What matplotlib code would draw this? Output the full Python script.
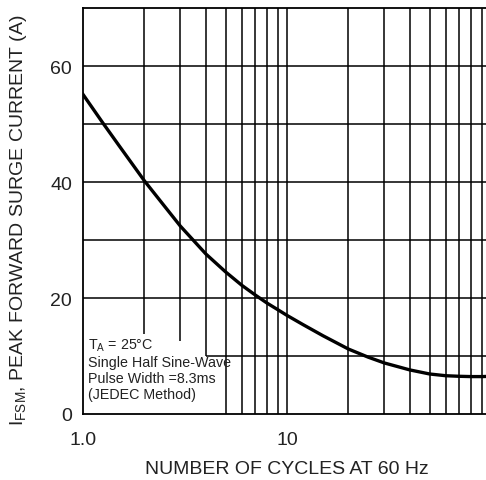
import matplotlib
matplotlib.use('Agg')
import matplotlib.pyplot as plt

plt.rcParams['font.family'] = ['Liberation Sans', 'DejaVu Sans']
plt.rcParams['mathtext.fontset'] = 'custom'
plt.rcParams['mathtext.rm'] = 'Liberation Sans'

# surge current curve
cycles = [1, 1.25, 1.5, 2, 2.5, 3, 4, 5, 6, 7, 8, 9, 10, 12, 15, 20, 25, 30,
          40, 50, 60, 70, 80, 90, 100]
ifsm = [55.1, 50.2, 46.3, 40.2, 35.9, 32.4, 27.6, 24.5, 22.2, 20.5, 19.1, 18.0,
        17.0, 15.4, 13.5, 11.2, 9.8, 8.8, 7.6, 6.9, 6.6, 6.5, 6.45, 6.45, 6.5]

y_ticks = [0, 20, 40, 60]
x_ticks = [1, 10]
x_ticklabels = ['1.0', '10']

# grid lines (the box with the notes hides the lower ends of some)
v_grid = [2, 3, 4, 5, 6, 7, 8, 9, 10, 20, 30, 40, 50, 60, 70, 80, 90]
v_grid_bottom = [13.8, 12.6, 10, 0, 0, 0, 0, 0, 0, 0, 0, 0, 0, 0, 0, 0, 0]
h_grid = [10, 20, 30, 40, 50, 60]
h_grid_left = [4, 1, 1, 1, 1, 1]

fig = plt.figure(figsize=(4.86, 4.81), dpi=100)
ax = fig.add_axes([83 / 486, 1 - 415 / 481, (491 - 83) / 486, (415 - 9) / 481])
ax.set_xscale('log')
ax.set_xlim(1, 100)
ax.set_ylim(0, 70)

ax.vlines(v_grid, v_grid_bottom, 70, colors='black', linewidth=1.1, zorder=1)
ax.hlines(h_grid, h_grid_left, 100, colors='black', linewidth=1.1, zorder=1)

ax.plot(cycles, ifsm, color='black', linewidth=2.4, zorder=3,
        solid_joinstyle='round')

ax.set_yticks(y_ticks)
ax.set_xticks(x_ticks)
ax.set_xticklabels(x_ticklabels)
ax.xaxis.set_minor_locator(matplotlib.ticker.NullLocator())
ax.tick_params(axis='both', length=0, labelsize=14, labelcolor='#222222')
ax.tick_params(axis='y', pad=8)
ax.tick_params(axis='x', pad=12)

for s in ax.spines.values():
    s.set_linewidth(1.3)
ax.spines['right'].set_visible(False)

ax.text(1.06, 13.4,
        'T$_\\mathregular{A}$ = 25°C\nSingle Half Sine-Wave\nPulse Width =8.3ms\n(JEDEC Method)',
        fontsize=10.3, va='top', ha='left', linespacing=1.2, color='#222222', zorder=4)

ax.set_xlabel('NUMBER OF CYCLES AT 60 Hz', fontsize=14, color='#222222', labelpad=9)
ax.set_ylabel('$\\mathregular{I_{FSM}}$, PEAK FORWARD SURGE CURRENT (A)',
              fontsize=14, color='#222222')
ax.yaxis.set_label_coords(-0.133, 0.48)

fig.savefig('out.png', dpi=100)
